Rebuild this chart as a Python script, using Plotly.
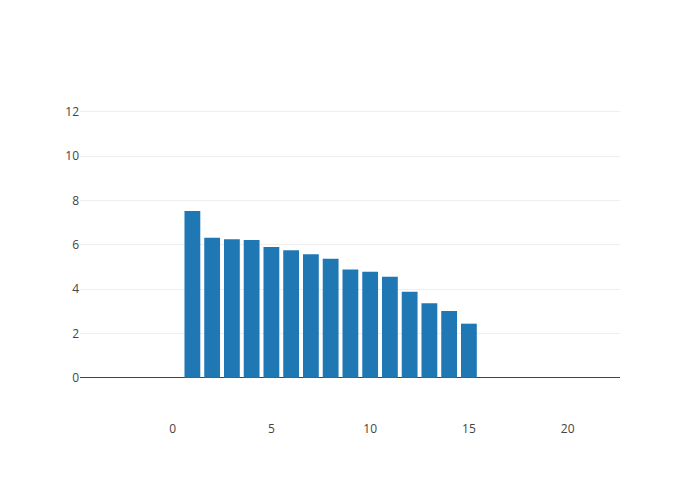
import plotly.graph_objs as go

positions = list(range(1, 16))
values = [7.53, 6.32, 6.25, 6.22, 5.90, 5.75, 5.58, 5.37, 4.89, 4.79, 4.56, 3.88, 3.36, 3.01, 2.44]

fig = go.Figure()
fig.add_trace(go.Bar(
    x=positions,
    y=values,
    marker=dict(color='#1f77b4')
))

# page has an 8px body margin, so shift the margins to line the plot up
fig.update_layout(
    template='none',
    width=700,
    height=500,
    font=dict(family='Open Sans', size=12, color='#444'),
    margin=dict(l=72, r=88, t=92, b=88),
    xaxis=dict(range=[-4.69, 22.65], showgrid=False, zeroline=False,
               tickvals=[0, 5, 10, 15, 20]),
    yaxis=dict(range=[-1.91, 12.54], gridcolor='#eee', zeroline=True,
               zerolinecolor='#444', zerolinewidth=1,
               tickvals=[0, 2, 4, 6, 8, 10, 12]),
    showlegend=False
)

fig.write_html("out.html")
